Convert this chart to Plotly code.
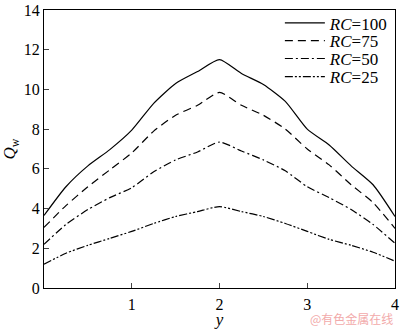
import plotly.graph_objects as go

y_pos = [0, 0.25, 0.5, 0.75, 1.0, 1.25, 1.5, 1.75, 2.0, 2.25, 2.5, 2.75, 3.0, 3.25, 3.5, 3.75, 4.0]
qw_rc100 = [3.65, 5.1, 6.15, 6.97, 7.95, 9.3, 10.3, 10.9, 11.5, 10.8, 10.25, 9.4, 8.0, 7.2, 6.15, 5.2, 3.6]
qw_rc75 = [3.05, 4.15, 5.1, 5.95, 6.8, 7.9, 8.7, 9.2, 9.85, 9.2, 8.7, 8.0, 7.0, 6.2, 5.2, 4.3, 3.0]
qw_rc50 = [2.2, 3.2, 3.95, 4.55, 5.05, 5.85, 6.45, 6.85, 7.35, 6.9, 6.45, 5.9, 5.1, 4.55, 3.95, 3.2, 2.25]
qw_rc25 = [1.2, 1.75, 2.15, 2.5, 2.85, 3.25, 3.6, 3.85, 4.1, 3.85, 3.6, 3.25, 2.85, 2.45, 2.15, 1.8, 1.35]

series = [
    ("<i>RC</i>=100", qw_rc100, "solid"),
    ("<i>RC</i>=75", qw_rc75, "8px,5px"),
    ("<i>RC</i>=50", qw_rc50, "8px,3px,2px,3px"),
    ("<i>RC</i>=25", qw_rc25, "8px,2px,2px,2px,2px,2px"),
]
x_ticks = [1, 2, 3, 4]
y_ticks = [0, 2, 4, 6, 8, 10, 12, 14]

font = "Liberation Serif, Times New Roman, serif"
legend_ids = ["legend", "legend2", "legend3", "legend4"]
legend_rows = [0.952, 0.888, 0.824, 0.759]

fig = go.Figure()
for (name, vals, dash), lid in zip(series, legend_ids):
    fig.add_trace(go.Scatter(
        x=y_pos, y=vals, mode="lines", name=name, legend=lid,
        line=dict(color="black", width=1.2, dash=dash, shape="spline", smoothing=0.6),
    ))

legend_common = dict(x=0.672, xanchor="left", yanchor="middle",
                     bgcolor="rgba(0,0,0,0)", font=dict(family=font, size=17),
                     itemwidth=40)
legends = {lid: dict(y=ly, **legend_common) for lid, ly in zip(legend_ids, legend_rows)}

fig.update_layout(
    width=400, height=329,
    margin=dict(l=44, r=5, t=6, b=41),
    paper_bgcolor="white", plot_bgcolor="white",
    font=dict(family=font, size=16, color="black"),
    showlegend=True,
    **legends,
    xaxis=dict(
        range=[0, 4], tickvals=x_ticks, ticks="inside", ticklen=5,
        showline=True, linecolor="black", linewidth=1, mirror=True,
        showgrid=False, zeroline=False, automargin=False,
        ticklabeloverflow="allow", ticklabelstandoff=2,
        title=dict(text="<i>y</i>", standoff=0, font=dict(size=17)),
        tickfont=dict(size=16),
    ),
    yaxis=dict(
        range=[0, 14], tickvals=y_ticks, ticks="inside", ticklen=5,
        showline=True, linecolor="black", linewidth=1, mirror=True,
        showgrid=False, zeroline=False, automargin=False,
        ticklabeloverflow="allow",
        title=dict(text="<i>Q</i><sub>w</sub>", standoff=4, font=dict(size=17)),
        tickfont=dict(size=16),
    ),
)
fig.add_annotation(
    text="@有色金属在线", x=1.0, y=0, xref="paper", yref="paper",
    xanchor="right", yanchor="middle", yshift=-30, showarrow=False,
    font=dict(family="Noto Sans CJK SC", size=12, color="#f2aaaa"),
)
fig.write_html("out.html", config={"displayModeBar": False},
               post_script="document.body.style.margin='0';document.body.style.overflow='hidden';")
